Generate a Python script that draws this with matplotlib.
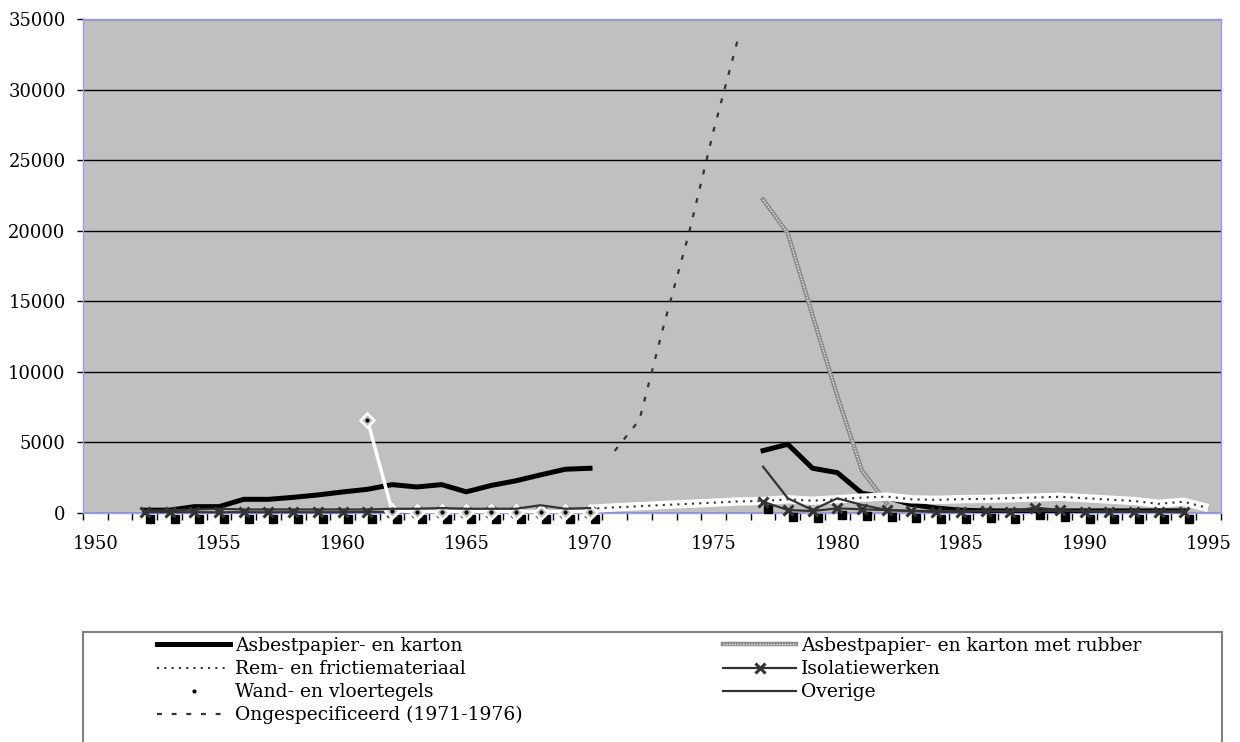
import numpy as np
import matplotlib.pyplot as plt
from matplotlib.patches import Rectangle
from matplotlib.transforms import ScaledTranslation

plt.rcParams['font.family'] = 'DejaVu Serif'

N = np.nan
years = np.arange(1952, 1996)

# tonnen per jaar, 1952 .. 1995 (NaN = geen gegevens)
asbest = [200, 200, 450, 450, 970, 970, 1110, 1280, 1490, 1680,
          2010, 1845, 2010, 1500, 1950, 2280, 2700, 3100, 3170,
          N, N, N, N, N, N,
          4420, 4870, 3170, 2860, 1400, 1100, 600, 350, 200,
          150, 150, 150, 150, 150, 150, 150, 150, 150, N]
rubber = [N] * 25 + [22200, 19800, 14000, 8300, 3000, 700] + [N] * 13
rem = [N] * 18 + [300, 400, 480, 570, 650, 730, 820,
                  850, 970, 870, 970, 1090, 1160, 970, 930, 980,
                  1000, 1050, 1100, 1150, 1050, 950, 850, 650, 800, 350]
isolatie = [60, 50, 60, 50, 60, 50, 60, 50, 60, 80,
            60, 60, 60, 60, 60, 60, 60, 60, 60,
            N, N, N, N, N, N,
            800, 210, 140, 330, 260, 210, 140, 70, 70,
            140, 100, 380, 210, 100, 80, 80, 80, 50, N]
wand = [N] * 9 + [6600, 150, 100, 100, 100, 100, 100, 100, 100, 100] + [N] * 25
overige = [150, 200, 250, 300, 250, 250, 250, 250, 250, 250,
           300, 300, 350, 300, 300, 300, 550, 300, 350,
           N, N, N, N, N, N,
           3280, 1040, 210, 1040, 570, 210, 150, 150, 150,
           150, 150, 150, 150, 150, 150, 150, 150, 150, N]
ongespec = [N] * 19 + [4400, 6600, 13400, 19800, 27100, 33700] + [N] * 19

labels = ['Asbestpapier- en karton',
          'Asbestpapier- en karton met rubber',
          'Rem- en frictiemateriaal',
          'Isolatiewerken',
          'Wand- en vloertegels',
          'Overige',
          'Ongespecificeerd (1971-1976)']

fig = plt.figure(figsize=(12.4, 7.42), dpi=100)
ax = fig.add_axes([83 / 1240, 1 - 513 / 742, 1137.6 / 1240, 494 / 742])
ax.set_facecolor('#c0c0c0')
ax.set_xlim(1949.5, 1995.5)
ax.set_ylim(0, 35000)
ax.set_yticks(range(0, 35001, 5000))
ax.set_xticks(range(1950, 1996, 5))
ax.set_xticks(np.arange(1949.5, 1996, 1), minor=True)
ax.tick_params(axis='x', which='major', length=0, pad=16, labelsize=13)
ax.tick_params(axis='x', which='minor', length=5, width=1, direction='out')
ax.tick_params(axis='y', length=4.5, width=1, pad=8, labelsize=13)
ax.yaxis.grid(True, color='black', lw=1)
ax.set_axisbelow(True)
for s in ax.spines.values():
    s.set_color('#9999ff')
    s.set_linewidth(1)

asb, = ax.plot(years, asbest, color='black', lw=3.6, zorder=3)

rb1, = ax.plot(years, rubber, color='#8c8c8c', lw=3.2, zorder=3.1)
rb2, = ax.plot(years, rubber, color='#e8e8e8', lw=1.0, ls=(0, (1, 1)), zorder=3.2)

ax.plot(years, rem, color='white', lw=6, solid_capstyle='butt', zorder=3.3)
rm, = ax.plot(years, rem, color='#333333', lw=1.5, ls=(0, (1, 2.5)), zorder=3.4)

# schaduw onder de markers van isolatiewerken
shadow = ax.transData + ScaledTranslation(5 / 100, -7 / 100, fig.dpi_scale_trans)
ax.plot(years, isolatie, ls='none', marker='s', ms=6, color='black',
        transform=shadow, clip_on=False, zorder=3.5)
iso, = ax.plot(years, isolatie, color='#333333', lw=1.6, marker='x', ms=7,
               mew=2.2, zorder=3.6, clip_on=False)

ax.plot(years, wand, color='white', lw=2.5, marker='D', ms=7, mfc='#c0c0c0',
        mec='white', mew=1.8, zorder=3.7, clip_on=False)
wd, = ax.plot(years, wand, ls='none', marker='o', ms=2, color='black',
              zorder=3.8, clip_on=False)

ov, = ax.plot(years, overige, color='#333333', lw=1.6, zorder=3.9)
og, = ax.plot(years, ongespec, color='#333333', lw=1.6, ls=(0, (2.2, 4.4)), zorder=4)

kw = dict(loc='upper left', frameon=False, fontsize=13.5, handlelength=3.9,
          handletextpad=0.27, labelspacing=0.27, borderpad=0, borderaxespad=0)
fig.legend([asb, rm, wd, og], [labels[0], labels[2], labels[4], labels[6]],
           bbox_to_anchor=(157 / 1240, 1 - 637 / 742), **kw)
fig.legend([(rb1, rb2), iso, ov], [labels[1], labels[3], labels[5]],
           bbox_to_anchor=(723 / 1240, 1 - 637 / 742), **kw)
fig.add_artist(Rectangle((83 / 1240, -0.1), (1222 - 83) / 1240, 0.1 + (742 - 632) / 742,
                         transform=fig.transFigure, fill=False,
                         edgecolor='#808080', lw=1.5))

fig.savefig('out.png', dpi=100)
